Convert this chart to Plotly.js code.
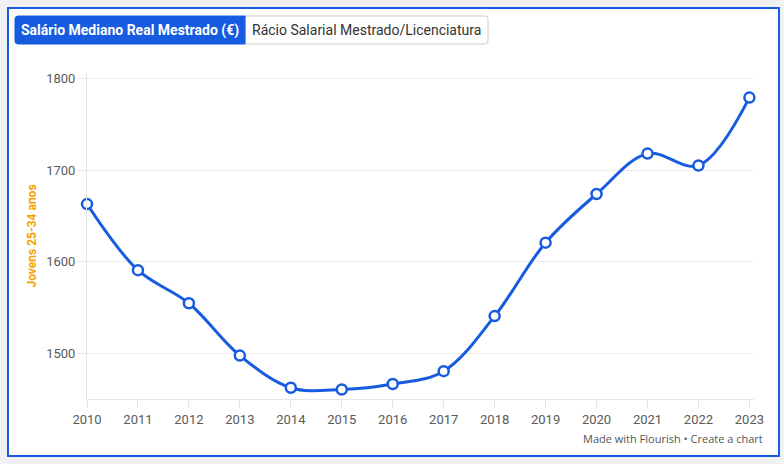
<!DOCTYPE html>
<html>
<head>
<meta charset="utf-8">
<script src="https://cdn.plot.ly/plotly-3.0.1.min.js"></script>
<style>
  html, body { margin: 0; padding: 0; background: #eff1f5; }
  #chart { width: 784px; height: 464px; }
</style>
</head>
<body>
<div id="chart"></div>
<script>
// ---- Data ----
const years = [2010, 2011, 2012, 2013, 2014, 2015, 2016, 2017, 2018, 2019, 2020, 2021, 2022, 2023];
const salarioMestrado = [1663, 1591, 1555, 1498, 1463, 1461, 1467, 1481, 1541, 1621, 1674, 1718, 1705, 1779];
const yTickValues = [1500, 1600, 1700, 1800];
const yAxisTitle = "Jovens 25-34 anos";
const buttonLabels = ["Salário Mediano Real Mestrado (€)", "Rácio Salarial Mestrado/Licenciatura"];
const footerText = "Made with Flourish • Create a chart";

// ---- Layout geometry (pixels) ----
const W = 784, H = 464;
const M = { l: 87, r: 30, t: 73, b: 65 };
const PW = W - M.l - M.r, PH = H - M.t - M.b;
const px2x = px => (px - M.l) / PW;
const px2y = py => 1 - (py - M.t) / PH;

const blue = "#175ce0";

function roundRectPath(x0, y0, x1, y1, rl, rr) {
  const X = px2x, Y = px2y;
  const p = [];
  p.push(`M${X(x0 + rl)},${Y(y0)}`);
  p.push(`L${X(x1 - rr)},${Y(y0)}`);
  if (rr) p.push(`Q${X(x1)},${Y(y0)} ${X(x1)},${Y(y0 + rr)}`);
  p.push(`L${X(x1)},${Y(y1 - rr)}`);
  if (rr) p.push(`Q${X(x1)},${Y(y1)} ${X(x1 - rr)},${Y(y1)}`);
  p.push(`L${X(x0 + rl)},${Y(y1)}`);
  if (rl) p.push(`Q${X(x0)},${Y(y1)} ${X(x0)},${Y(y1 - rl)}`);
  p.push(`L${X(x0)},${Y(y0 + rl)}`);
  if (rl) p.push(`Q${X(x0)},${Y(y0)} ${X(x0 + rl)},${Y(y0)}`);
  p.push("Z");
  return p.join(" ");
}

const trace = {
  x: years,
  y: salarioMestrado,
  type: "scatter",
  mode: "lines+markers",
  cliponaxis: false,
  line: { color: blue, width: 3, shape: "spline", smoothing: 1 },
  marker: { size: 10, color: "#ffffff", line: { color: blue, width: 2.5 } },
  hoverinfo: "x+y",
  showlegend: false
};

const layout = {
  width: W, height: H,
  margin: M,
  paper_bgcolor: "#eff1f5",
  plot_bgcolor: "rgba(0,0,0,0)",
  font: { family: "Roboto, sans-serif", color: "#555" },
  xaxis: {
    range: [2010, 2023.09],
    tickvals: years,
    ticktext: years.map(String),
    showgrid: false,
    zeroline: false,
    showline: true,
    linecolor: "#e6e6e6",
    linewidth: 1,
    ticks: "outside",
    ticklen: 8,
    tickcolor: "#e6e6e6",
    tickfont: { family: "Roboto, sans-serif", size: 13, color: "#5a5a5a" },
    fixedrange: true
  },
  yaxis: {
    range: [1450.7, 1805.8],
    tickvals: yTickValues,
    showgrid: true,
    gridcolor: "#ececec",
    zeroline: false,
    showline: true,
    linecolor: "#e6e6e6",
    ticks: "outside",
    ticklen: 8,
    tickcolor: "#e6e6e6",
    tickfont: { family: "Roboto, sans-serif", size: 13, color: "#5a5a5a" },
    title: {
      text: yAxisTitle,
      font: { family: "Roboto, sans-serif", size: 12, color: "#f5a300", weight: "bold" },
      standoff: 6
    },
    fixedrange: true
  },
  shapes: [
    { type: "rect", xref: "paper", yref: "paper", layer: "below",
      x0: px2x(8), x1: px2x(779), y0: px2y(456), y1: px2y(8),
      fillcolor: "#ffffff", line: { color: blue, width: 2 } },
    { type: "path", xref: "paper", yref: "paper", layer: "above",
      path: roundRectPath(245, 16, 488, 44, 0, 3),
      fillcolor: "#ffffff", line: { color: "#cccccc", width: 1 } },
    { type: "path", xref: "paper", yref: "paper", layer: "above",
      path: roundRectPath(15, 16, 245, 44, 3, 0),
      fillcolor: blue, line: { color: blue, width: 1 } }
  ],
  annotations: [
    { xref: "paper", yref: "paper", x: px2x(130), y: px2y(30.5),
      xanchor: "center", yanchor: "middle", showarrow: false,
      text: "<b>" + buttonLabels[0] + "</b>",
      font: { family: "Roboto, sans-serif", size: 14, color: "#ffffff" } },
    { xref: "paper", yref: "paper", x: px2x(366.5), y: px2y(30.5),
      xanchor: "center", yanchor: "middle", showarrow: false,
      text: buttonLabels[1],
      font: { family: "Roboto, sans-serif", size: 14, color: "#333333" } },
    { xref: "paper", yref: "paper", x: px2x(765), y: px2y(438),
      xanchor: "right", yanchor: "middle", showarrow: false,
      text: footerText,
      font: { family: "'Open Sans', sans-serif", size: 11, color: "#555555" } }
  ]
};

Plotly.newPlot("chart", [trace], layout, { displayModeBar: false });
</script>
</body>
</html>
